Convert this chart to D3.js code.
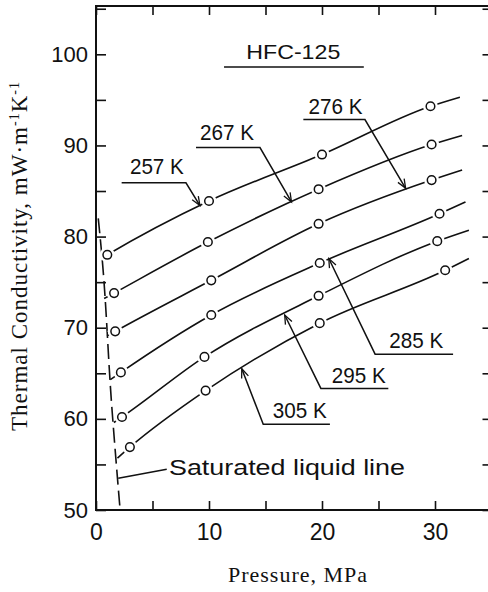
<!DOCTYPE html>
<html>
<head>
<meta charset="utf-8">
<script src="https://cdn.jsdelivr.net/npm/d3@7/dist/d3.min.js"></script>
<style>
  body { margin: 0; background: #fff; }
  svg { display: block; }
  .tick text { font-family: "Liberation Sans", Arial, sans-serif; font-size: 22px; fill: #111; }
  .tick line { stroke: #111; stroke-width: 1.6; }
  .axis-title { font-family: "Liberation Serif", "Times New Roman", serif; fill: #111; }
  .note { font-family: "Liberation Sans", Arial, sans-serif; fill: #111; }
</style>
</head>
<body>
<svg id="chart" width="488" height="592"></svg>
<script>
// isotherms, measured points (pressure MPa, conductivity mW/m/K)
const isotherms = ['257 K', '267 K', '276 K', '285 K', '295 K', '305 K'];
const measuredP = [
  [1.0, 10.0, 20.0, 29.6],
  [1.6, 9.9, 19.7, 29.7],
  [1.7, 10.2, 19.7, 29.7],
  [2.2, 10.2, 19.8, 30.4],
  [2.3, 9.6, 19.7, 30.2],
  [3.0, 9.7, 19.8, 30.9],
];
const measuredK = [
  [78.0, 83.9, 89.0, 94.3],
  [73.8, 79.4, 85.2, 90.1],
  [69.6, 75.2, 81.4, 86.2],
  [65.1, 71.4, 77.1, 82.5],
  [60.2, 66.8, 73.5, 79.5],
  [56.9, 63.1, 70.5, 76.3],
];
// where each smoothed isotherm starts (on the saturation line) and ends
const curveStartP = [0.46, 0.72, 0.98, 1.27, 1.58, 1.9];
const curveStartK = [77.6, 73.2, 69.1, 64.3, 59.6, 55.7];
const curveEndP = [32.2, 32.4, 32.4, 32.7, 33.0, 33.0];
const curveEndK = [95.3, 91.1, 87.3, 83.8, 80.7, 77.6];

// saturated liquid line
const satP = [0.2, 0.5, 1.4, 2.1];
const satK = [82.0, 78.2, 61.3, 50.5];

// axis ticks
const xTicks = [0, 5, 10, 15, 20, 25, 30, 35];
const xLabels = [0, 10, 20, 30];
const yTicks = [50, 55, 60, 65, 70, 75, 80, 85, 90, 95, 100, 105];
const yLabels = [50, 60, 70, 80, 90, 100];

// label leaders, in data units
const labelP = [3.0, 9.2, 18.8, 25.96, 20.86, 15.64];
const labelK = [86.9, 90.55, 93.4, 67.8, 63.9, 60.05];
const leaderP0 = [2.27, 8.85, 18.35, 24.7, 19.9, 14.8];
const leaderP1 = [7.96, 14.51, 23.8, 31.6, 25.87, 20.7];
const leaderK = [85.9, 89.77, 92.84, 67.1, 63.34, 59.4];
const tipP = [9.2, 17.3, 27.4, 20.6, 16.7, 12.9];
const tipK = [83.4, 83.8, 85.3, 77.6, 71.4, 65.5];

const svg = d3.select('#chart');
const x = d3.scaleLinear().domain([0, 35]).range([96, 491.5]);
const y = d3.scaleLinear().domain([50, 105.3]).range([510, 6]);

const defs = svg.append('defs');
defs.append('marker')
  .attr('id', 'arrow')
  .attr('viewBox', '-11 -6 13 12')
  .attr('refX', 0)
  .attr('refY', 0)
  .attr('markerWidth', 13)
  .attr('markerHeight', 12)
  .attr('markerUnits', 'userSpaceOnUse')
  .attr('orient', 'auto')
  .append('path')
  .attr('d', 'M-9,-3.6L0,0L-9,3.6')
  .attr('fill', 'none')
  .attr('stroke', '#111')
  .attr('stroke-width', 1.3);

// axes: ticks point inward on all four sides
const fmtX = d => xLabels.includes(d) ? d : '';
const fmtY = d => yLabels.includes(d) ? d : '';

const gBottom = svg.append('g')
  .attr('transform', `translate(0,${y(50)})`)
  .call(d3.axisBottom(x).tickValues(xTicks).tickFormat(fmtX)
    .tickSizeInner(-9).tickSizeOuter(0).tickPadding(14));
gBottom.selectAll('.tick text').style('font-size', '23px');
const gLeft = svg.append('g')
  .attr('transform', `translate(${x(0)},0)`)
  .call(d3.axisLeft(y).tickValues(yTicks).tickFormat(fmtY)
    .tickSizeInner(-10).tickSizeOuter(0).tickPadding(8));
svg.append('g')
  .attr('transform', `translate(0,${y(105.3)})`)
  .call(d3.axisTop(x).tickValues(xTicks).tickFormat('')
    .tickSizeInner(-9).tickSizeOuter(0));
svg.append('g')
  .attr('transform', `translate(${x(35)},0)`)
  .call(d3.axisRight(y).tickValues(yTicks).tickFormat('')
    .tickSizeInner(-9).tickSizeOuter(0));
svg.selectAll('.domain').remove();

svg.append('rect')
  .attr('x', x(0))
  .attr('y', y(105.3))
  .attr('width', x(35) - x(0))
  .attr('height', y(50) - y(105.3))
  .attr('fill', 'none')
  .attr('stroke', '#111')
  .attr('stroke-width', 2);

// saturated liquid line
const satLine = d3.line().x(d => x(d[0])).y(d => y(d[1])).curve(d3.curveMonotoneY);
svg.append('path')
  .datum(satP.map((p, i) => [p, satK[i]]))
  .attr('d', satLine)
  .attr('fill', 'none')
  .attr('stroke', '#111')
  .attr('stroke-width', 1.6)
  .attr('stroke-dasharray', '15,6');

// isotherms
const curve = d3.line().x(d => x(d[0])).y(d => y(d[1])).curve(d3.curveMonotoneX);
const series = isotherms.map((name, i) => ({
  name,
  points: measuredP[i].map((p, j) => [p, measuredK[i][j]]),
  path: [[curveStartP[i], curveStartK[i]]]
    .concat(measuredP[i].map((p, j) => [p, measuredK[i][j]]))
    .concat([[curveEndP[i], curveEndK[i]]]),
}));

const iso = svg.append('g').attr('class', 'isotherms')
  .selectAll('g.iso')
  .data(series)
  .enter()
  .append('g')
  .attr('class', 'iso');

iso.append('path')
  .attr('d', d => curve(d.path))
  .attr('fill', 'none')
  .attr('stroke', '#111')
  .attr('stroke-width', 1.6);

// white halo breaks the curve around each open circle
iso.selectAll('circle.halo')
  .data(d => d.points)
  .enter()
  .append('circle')
  .attr('class', 'halo')
  .attr('cx', d => x(d[0]))
  .attr('cy', d => y(d[1]))
  .attr('r', 7.5)
  .attr('fill', '#fff');

iso.selectAll('circle.pt')
  .data(d => d.points)
  .enter()
  .append('circle')
  .attr('class', 'pt')
  .attr('cx', d => x(d[0]))
  .attr('cy', d => y(d[1]))
  .attr('r', 4.3)
  .attr('fill', '#fff')
  .attr('stroke', '#111')
  .attr('stroke-width', 1.5);

// temperature labels with leader arrows
const notes = svg.append('g').attr('class', 'notes');
isotherms.forEach((name, i) => {
  const above = i < 3;
  const start = above ? leaderP0[i] : leaderP1[i];
  const elbow = above ? leaderP1[i] : leaderP0[i];
  notes.append('path')
    .attr('d', `M${x(start)},${y(leaderK[i])}L${x(elbow)},${y(leaderK[i])}L${x(tipP[i])},${y(tipK[i])}`)
    .attr('fill', 'none')
    .attr('stroke', '#111')
    .attr('stroke-width', 1.5)
    .attr('marker-end', 'url(#arrow)');
  notes.append('text')
    .attr('class', 'note')
    .attr('x', x(labelP[i]))
    .attr('y', y(labelK[i]))
    .attr('font-size', 22)
    .attr('textLength', 54)
    .attr('lengthAdjust', 'spacingAndGlyphs')
    .text(name);
});

// compound name
notes.append('text')
  .attr('class', 'note')
  .attr('x', x(13.3))
  .attr('y', y(99.5))
  .attr('font-size', 21)
  .attr('textLength', 94)
  .attr('lengthAdjust', 'spacingAndGlyphs')
  .text('HFC-125');
notes.append('line')
  .attr('x1', x(11.33)).attr('x2', x(23.7))
  .attr('y1', y(98.6)).attr('y2', y(98.6))
  .attr('stroke', '#111')
  .attr('stroke-width', 1.5);

// saturated liquid line label
notes.append('line')
  .attr('x1', x(1.97)).attr('y1', y(53.48))
  .attr('x2', x(6.26)).attr('y2', y(54.46))
  .attr('stroke', '#111')
  .attr('stroke-width', 1.5);
notes.append('text')
  .attr('class', 'note')
  .attr('x', x(6.46))
  .attr('y', y(53.84))
  .attr('font-size', 22)
  .attr('textLength', 236)
  .attr('lengthAdjust', 'spacingAndGlyphs')
  .text('Saturated liquid line');

// axis titles
svg.append('text')
  .attr('class', 'axis-title')
  .attr('x', 298)
  .attr('y', 582)
  .attr('text-anchor', 'middle')
  .attr('font-size', 22)
  .attr('letter-spacing', 1)
  .text('Pressure, MPa');

const yTitle = svg.append('text')
  .attr('class', 'axis-title')
  .attr('transform', 'translate(27,256) rotate(-90)')
  .attr('text-anchor', 'middle')
  .attr('font-size', 23)
  .attr('letter-spacing', 1);
yTitle.append('tspan').text('Thermal Conductivity, mW·m');
yTitle.append('tspan').attr('dy', -8).attr('font-size', 14).text('-1');
yTitle.append('tspan').attr('dy', 8).text('K');
yTitle.append('tspan').attr('dy', -8).attr('font-size', 14).text('-1');
</script>
</body>
</html>
